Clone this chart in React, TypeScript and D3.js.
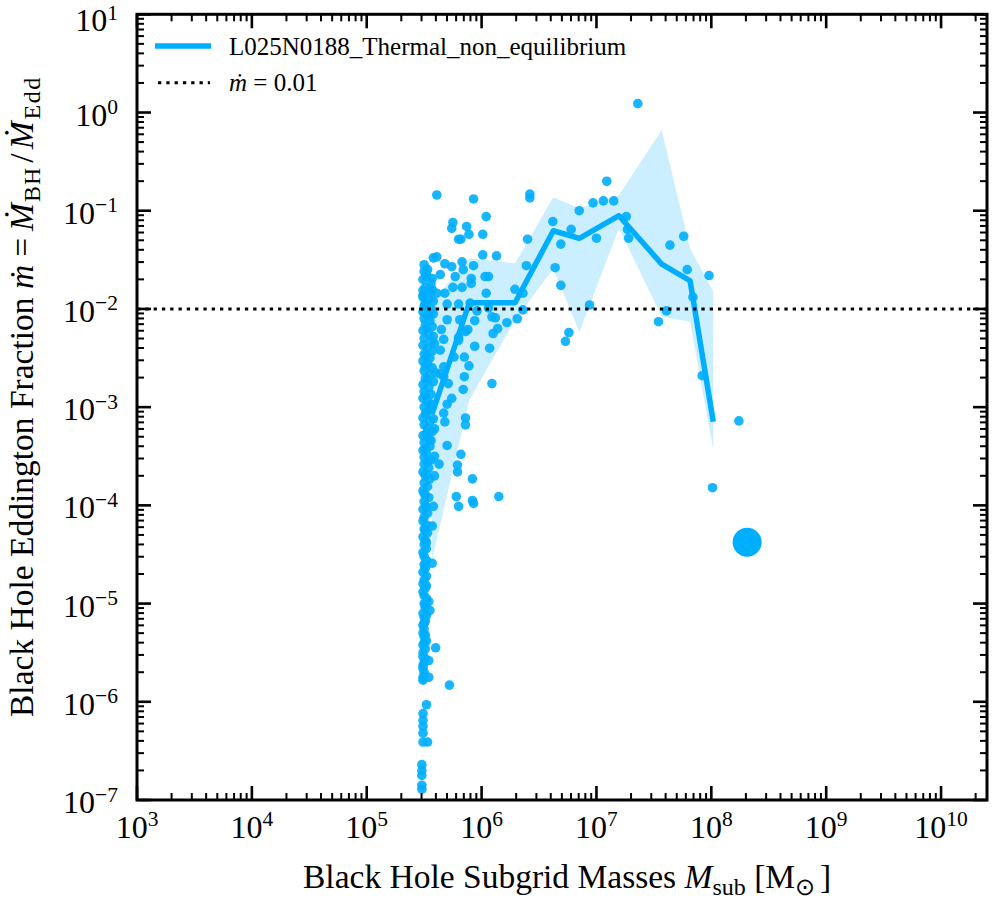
import React from 'react';
import * as d3 from 'd3';

// log10 of [subgrid mass (Msun), Eddington fraction]
const seedColumn: [number, number][] = [
  [5.50, -1.55], [5.53, -1.60], [5.52, -1.65], [5.49, -1.70], [5.56, -1.74], [5.51, -1.78], [5.57, -1.80],
  [5.55, -1.84], [5.49, -1.86], [5.54, -1.90], [5.58, -1.92], [5.51, -1.94], [5.50, -1.97], [5.56, -2.00],
  [5.49, -2.03], [5.53, -2.06], [5.58, -2.05], [5.54, -2.08], [5.50, -2.10], [5.55, -2.12], [5.51, -2.16],
  [5.57, -2.18], [5.52, -2.20], [5.49, -2.22], [5.54, -2.25], [5.58, -2.28], [5.50, -2.30], [5.56, -2.33],
  [5.59, -2.35], [5.49, -2.37], [5.53, -2.40], [5.57, -2.43], [5.50, -2.46], [5.52, -2.48], [5.55, -2.50],
  [5.49, -2.53], [5.53, -2.56], [5.51, -2.58], [5.57, -2.60], [5.50, -2.63], [5.60, -2.65], [5.55, -2.67],
  [5.51, -2.71], [5.53, -2.72], [5.58, -2.74], [5.49, -2.77], [5.54, -2.80], [5.50, -2.84], [5.56, -2.87],
  [5.51, -2.88], [5.49, -2.91], [5.53, -2.94], [5.57, -2.97], [5.55, -2.98], [5.50, -3.00], [5.55, -3.03],
  [5.52, -3.05], [5.51, -3.07], [5.49, -3.11], [5.58, -3.12], [5.55, -3.14], [5.50, -3.18], [5.53, -3.22],
  [5.57, -3.25], [5.52, -3.27], [5.49, -3.29], [5.54, -3.32], [5.56, -3.34], [5.50, -3.36], [5.55, -3.40],
  [5.51, -3.42], [5.49, -3.44], [5.52, -3.47], [5.50, -3.51], [5.56, -3.54], [5.53, -3.56], [5.50, -3.58],
  [5.54, -3.62], [5.49, -3.66], [5.52, -3.68], [5.51, -3.70], [5.55, -3.73], [5.50, -3.77], [5.53, -3.81],
  [5.49, -3.85], [5.50, -3.88], [5.51, -3.89], [5.54, -3.92], [5.50, -3.96],
  [5.51, -4.00], [5.52, -4.02], [5.49, -4.04], [5.53, -4.08], [5.50, -4.12], [5.49, -4.16], [5.52, -4.20],
  [5.50, -4.24], [5.51, -4.26], [5.53, -4.28], [5.49, -4.32], [5.51, -4.36], [5.52, -4.38], [5.50, -4.40],
  [5.52, -4.44], [5.49, -4.48], [5.50, -4.52], [5.52, -4.56], [5.50, -4.60], [5.51, -4.62], [5.51, -4.64],
  [5.49, -4.68], [5.52, -4.72], [5.50, -4.76], [5.49, -4.80], [5.52, -4.82], [5.51, -4.84], [5.49, -4.88],
  [5.50, -4.92], [5.52, -4.95], [5.50, -5.00], [5.51, -5.02], [5.51, -5.04], [5.49, -5.10], [5.52, -5.12],
  [5.50, -5.14], [5.51, -5.18], [5.50, -5.20], [5.49, -5.22], [5.50, -5.26], [5.49, -5.30], [5.51, -5.32],
  [5.50, -5.34], [5.52, -5.38], [5.50, -5.40], [5.49, -5.42], [5.51, -5.46], [5.49, -5.50], [5.51, -5.56],
  [5.50, -5.60], [5.49, -5.66], [5.50, -5.70], [5.49, -5.75],
  [5.52, -6.03], [5.49, -6.12], [5.49, -6.19], [5.49, -6.25], [5.49, -6.32], [5.49, -6.41], [5.53, -6.41],
  [5.48, -6.64], [5.48, -6.70], [5.48, -6.75], [5.48, -6.85], [5.48, -6.89],
];

const grownBHs: [number, number][] = [
  [7.36, 0.09], [5.61, -0.84], [5.93, -0.88], [6.42, -0.83], [6.42, -0.87], [7.09, -0.70], [6.04, -1.06],
  [5.75, -1.12], [5.74, -1.18], [5.87, -1.16], [5.89, -1.24], [6.01, -1.24], [5.80, -1.29], [5.82, -1.29],
  [6.97, -0.92], [7.06, -0.90], [7.15, -0.90], [6.85, -1.00], [6.62, -1.11], [6.78, -1.19], [6.69, -1.34],
  [6.40, -1.29], [7.00, -1.28], [7.26, -1.06], [7.27, -1.19], [7.28, -1.28], [6.64, -1.58], [6.69, -1.76],
  [6.94, -1.96], [6.39, -1.56], [6.29, -1.80], [6.36, -1.84], [6.13, -1.46], [6.01, -1.45], [6.03, -1.67],
  [6.06, -1.67], [6.04, -1.84], [5.93, -1.56], [5.91, -1.69], [5.91, -1.74], [5.83, -1.52], [5.84, -1.60],
  [5.77, -1.67], [5.74, -1.57], [5.58, -1.48], [5.61, -1.47], [5.68, -1.54], [5.50, -1.62], [5.52, -1.67],
  [5.57, -1.69], [5.64, -1.65], [5.49, -1.81], [5.54, -1.82], [5.61, -1.84], [5.68, -1.84], [5.75, -1.78],
  [5.83, -1.78], [5.49, -1.88], [5.70, -1.95], [5.80, -1.95], [5.90, -1.94], [6.76, -2.24], [6.73, -2.33],
  [7.76, -1.26], [7.64, -1.35], [7.79, -1.60], [7.98, -1.66], [7.84, -1.88], [7.61, -2.02], [7.54, -2.13],
  [7.92, -2.68], [8.24, -3.14], [8.01, -3.82], [6.31, -2.10], [6.22, -2.14], [6.36, -2.01], [6.12, -2.09],
  [6.09, -2.08], [6.14, -2.20], [6.10, -2.25], [6.07, -2.40], [6.09, -2.76], [5.96, -2.02], [5.94, -2.12],
  [6.06, -1.99], [5.86, -2.23], [5.94, -2.38], [5.85, -2.49], [5.89, -2.58], [5.85, -2.69], [5.84, -2.82],
  [5.80, -2.29], [5.76, -2.49], [5.71, -2.76], [5.68, -3.15], [5.86, -3.11], [5.86, -3.18], [5.70, -3.39],
  [5.70, -2.97], [5.74, -2.91], [5.67, -2.69], [5.64, -2.42], [5.70, -2.11], [5.65, -2.21], [5.67, -2.31],
  [5.82, -3.48], [5.79, -3.59], [5.79, -3.66], [5.63, -3.58], [5.92, -3.73], [5.59, -3.70], [5.78, -3.91],
  [5.80, -4.01], [5.92, -3.95], [5.93, -3.98], [6.15, -3.91], [5.58, -4.01], [5.57, -4.21], [5.57, -4.59],
  [5.67, -3.06], [5.59, -3.22], [5.59, -3.50], [5.64, -2.66], [5.67, -2.59], [5.80, -2.32], [5.88, -2.21],
  [5.81, -2.11], [5.60, -5.45], [5.72, -5.83], [5.54, -5.58], [5.54, -5.75], [5.49, -5.78], [5.49, -5.63],
  [5.49, -5.54], [5.55, -5.07], [5.54, -4.98],
];

// the single most massive BH, drawn large
const bigBH = { mass: 2.05e8, frac: 4.2e-5 };

// binned median and spread (log10)
const binMass = [5.568, 5.893, 6.291, 6.624, 6.851, 7.196, 7.568, 7.815, 8.017];
const binMedian = [-3.07, -1.937, -1.937, -1.204, -1.281, -1.051, -1.543, -1.713, -3.149];
const binUpper = [-1.93, -1.485, -1.536, -0.864, -0.976, -0.84, -0.178, -1.383, -1.825];
const binLower = [-4.557, -2.928, -2.113, -1.587, -2.235, -1.179, -2.079, -2.13, -3.437];

const massDecades = [3, 4, 5, 6, 7, 8, 9, 10];
const fracDecades = [-7, -6, -5, -4, -3, -2, -1, 0, 1];
const refLine = 0.01;
const seriesName = 'L025N0188_Thermal_non_equilibrium';

const BLUE = '#00AEFF';
const FONT = '"Liberation Serif", "Times New Roman", serif';

function sup(n: number) {
  return n < 0 ? '\u2212' + Math.abs(n) : String(n);
}

export default function App() {
  const width = 996;
  const height = 900;
  const margin = { left: 137, top: 14.3, right: 9, bottom: 100 };

  const x = d3.scaleLog().domain([1e3, Math.pow(10, 10.4)]).range([margin.left, width - margin.right]);
  const y = d3.scaleLog().domain([1e-7, 10]).range([height - margin.bottom, margin.top]);
  const [x0, x1] = x.range();
  const [y0, y1] = y.range();

  const minorX: number[] = [];
  massDecades.forEach(d => {
    for (let k = 2; k <= 9; k++) {
      const v = k * Math.pow(10, d);
      if (v < x.domain()[1]) minorX.push(v);
    }
  });
  const minorY: number[] = [];
  fracDecades.forEach(d => {
    for (let k = 2; k <= 9; k++) {
      const v = k * Math.pow(10, d);
      if (v < y.domain()[1]) minorY.push(v);
    }
  });

  const bins = binMass.map((m, i) => ({ m, med: binMedian[i], up: binUpper[i], lo: binLower[i] }));
  const area = d3.area<typeof bins[0]>()
    .x(d => x(Math.pow(10, d.m)))
    .y0(d => y(Math.pow(10, d.lo)))
    .y1(d => y(Math.pow(10, d.up)));
  const line = d3.line<typeof bins[0]>()
    .x(d => x(Math.pow(10, d.m)))
    .y(d => y(Math.pow(10, d.med)));

  const points = [...seedColumn, ...grownBHs];

  const majLen = 14;
  const minLen = 7;
  const labelSize = 33.5;
  const subSize = 24;
  const topDecade = fracDecades[fracDecades.length - 1];

  return (
    <svg width={width} height={height} style={{ position: 'absolute', left: 0, top: 0, background: '#fff' }}
      fontFamily={FONT}>
      <defs>
        <clipPath id="plot">
          <rect x={x0} y={y1} width={x1 - x0} height={y0 - y1} />
        </clipPath>
      </defs>

      <g clipPath="url(#plot)">
        <path d={area(bins) || ''} fill={BLUE} fillOpacity={0.2} stroke="none" />
        {points.map((p, i) => (
          <circle key={i} cx={x(Math.pow(10, p[0]))} cy={y(Math.pow(10, p[1]))} r={4.8}
            fill={BLUE} fillOpacity={0.9} />
        ))}
        <circle cx={x(bigBH.mass)} cy={y(bigBH.frac)} r={14.5} fill={BLUE} />
        <path d={line(bins) || ''} fill="none" stroke={BLUE} strokeWidth={5.5} strokeLinejoin="round" />
        <line x1={x0} x2={x1} y1={y(refLine)} y2={y(refLine)} stroke="#000" strokeWidth={3}
          strokeDasharray="3.3,5" />
      </g>

      {/* ticks on all four sides, pointing inward */}
      <g stroke="#000">
        {massDecades.map(d => {
          const px = x(Math.pow(10, d));
          return (
            <g key={'mx' + d} strokeWidth={2.6}>
              <line x1={px} x2={px} y1={y0} y2={y0 - majLen} />
              <line x1={px} x2={px} y1={y1} y2={y1 + majLen} />
            </g>
          );
        })}
        {minorX.map((v, i) => (
          <g key={'nx' + i} strokeWidth={2}>
            <line x1={x(v)} x2={x(v)} y1={y0} y2={y0 - minLen} />
            <line x1={x(v)} x2={x(v)} y1={y1} y2={y1 + minLen} />
          </g>
        ))}
        {fracDecades.map(d => {
          const py = y(Math.pow(10, d));
          return (
            <g key={'my' + d} strokeWidth={2.6}>
              <line x1={x0} x2={x0 + majLen} y1={py} y2={py} />
              <line x1={x1} x2={x1 - majLen} y1={py} y2={py} />
            </g>
          );
        })}
        {minorY.map((v, i) => (
          <g key={'ny' + i} strokeWidth={2}>
            <line x1={x0} x2={x0 + minLen} y1={y(v)} y2={y(v)} />
            <line x1={x1} x2={x1 - minLen} y1={y(v)} y2={y(v)} />
          </g>
        ))}
      </g>
      <rect x={x0} y={y1} width={x1 - x0} height={y0 - y1} fill="none" stroke="#000" strokeWidth={3} />

      {/* tick labels */}
      {massDecades.map(d => (
        <text key={'lx' + d} x={x(Math.pow(10, d))} y={y0 + 38} textAnchor="middle" fontSize={32}>
          <tspan>10</tspan>
          <tspan dy={-12} fontSize={21.5}>{sup(d)}</tspan>
        </text>
      ))}
      {fracDecades.map(d => (
        // the top label sits against the page edge, nudge it down a little so it stays whole
        <text key={'ly' + d} x={118} y={y(Math.pow(10, d)) + (d === topDecade ? 17 : 13)}
          textAnchor="end" fontSize={32}>
          <tspan>10</tspan>
          <tspan dy={-11.5} fontSize={21.5}>{sup(d)}</tspan>
        </text>
      ))}

      {/* axis labels */}
      <text x={303} y={888} fontSize={labelSize}>
        <tspan>Black Hole Subgrid Masses </tspan>
        <tspan fontStyle="italic">M</tspan>
        <tspan dy={7} fontSize={subSize}>sub</tspan>
        <tspan dy={-7}> [M</tspan>
        <tspan dy={7} fontSize={subSize}>{'\u2299'}</tspan>
        <tspan dy={-7} dx={5}>]</tspan>
      </text>
      <text transform="translate(33,717) rotate(-90)" fontSize={labelSize}>
        <tspan>Black Hole Eddington Fraction </tspan>
        <tspan fontStyle="italic">{'\u1E41'}</tspan>
        <tspan dx={8}>=</tspan>
        <tspan dx={7} fontStyle="italic">{'\u1E40'}</tspan>
        <tspan dy={7} dx={1} fontSize={subSize} letterSpacing={1}>BH</tspan>
        <tspan dy={-7} dx={4}>/</tspan>
        <tspan dx={4} fontStyle="italic">{'\u1E40'}</tspan>
        <tspan dy={7} dx={2} fontSize={subSize} letterSpacing={1.5}>Edd</tspan>
      </text>

      {/* legend */}
      <line x1={155} x2={211} y1={46} y2={46} stroke={BLUE} strokeWidth={5.5} />
      <text x={229} y={55} fontSize={25}>{seriesName}</text>
      <line x1={158} x2={210} y1={82.7} y2={82.7} stroke="#000" strokeWidth={3} strokeDasharray="3.3,5" />
      <text x={229} y={91} fontSize={25}>
        <tspan fontStyle="italic">{'\u1E41'}</tspan>
        <tspan> = {refLine}</tspan>
      </text>
    </svg>
  );
}
